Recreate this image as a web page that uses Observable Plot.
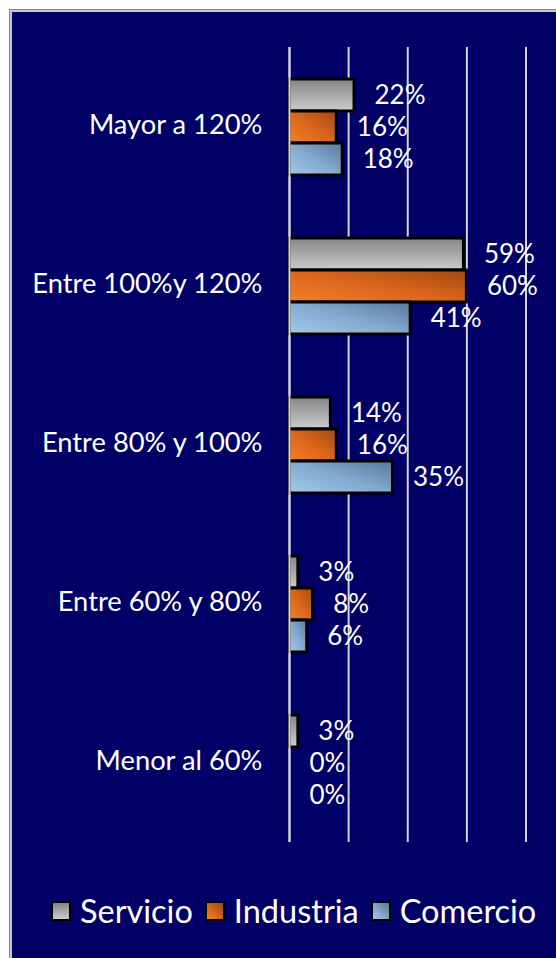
<!DOCTYPE html>
<html>
<head>
<meta charset="utf-8">
<script src="https://cdn.jsdelivr.net/npm/d3@7"></script>
<script src="https://cdn.jsdelivr.net/npm/@observablehq/plot@0.6"></script>
<style>
  html, body { margin: 0; padding: 0; background: #ffffff; }
  #page { position: relative; width: 556px; height: 958px; overflow: hidden; background: #ffffff; font-family: Lato, "Open Sans", sans-serif; }
  #frame { position: absolute; left: 10px; top: 10px; width: 600px; height: 1000px; background: #000066;
           border-left: 2px solid #c8c8c8; border-top: 2px solid #c8c8c8; box-shadow: -1px -1px 0 #888888; }
  #chart { position: absolute; left: 0; top: 0; }
  #legend { position: absolute; left: 51px; top: 891px; display: flex; align-items: center; color: #ffffff; font-size: 32.5px; white-space: nowrap; }
  #legend .sw { width: 16px; height: 16px; border: 2px solid #000000; margin-right: 9px; }
  #legend .item { display: flex; align-items: center; margin-right: 12px; }
</style>
</head>
<body>
<div id="page">
  <div id="frame"></div>
  <div id="chart"></div>
  <div id="legend"></div>
</div>
<script>
const categories = ["Mayor a 120%", "Entre 100%y 120%", "Entre 80% y 100%", "Entre 60% y 80%", "Menor al 60%"];
const series = ["Servicio", "Industria", "Comercio"];
const servicio = [22, 59, 14, 3, 3];
const industria = [16, 60, 16, 8, 0];
const comercio = [18, 41, 35, 6, 0];
const xTicks = [0, 20, 40, 60, 80];

const gradIds = ["gServicio", "gIndustria", "gComercio"];
const gradDefs = `
<linearGradient id="gServicio" x1="0" y1="0" x2="0" y2="1">
  <stop offset="0" stop-color="#858585"/><stop offset="1" stop-color="#cdcdcd"/>
</linearGradient>
<linearGradient id="gIndustria" x1="0" y1="1" x2="1" y2="0">
  <stop offset="0" stop-color="#f58028"/><stop offset="0.5" stop-color="#d9661c"/><stop offset="1" stop-color="#a24810"/>
</linearGradient>
<linearGradient id="gComercio" x1="0" y1="1" x2="1" y2="0">
  <stop offset="0" stop-color="#a2cbef"/><stop offset="0.5" stop-color="#82a9cf"/><stop offset="1" stop-color="#577a9b"/>
</linearGradient>`;

const valuesBySeries = [servicio, industria, comercio];
const data = [];
categories.forEach((c, i) => {
  series.forEach((s, j) => {
    data.push({category: c, series: s, value: valuesBySeries[j][i]});
  });
});

const chart = Plot.plot({
  width: 556,
  height: 858,
  marginLeft: 289,
  marginRight: 30.5,
  marginTop: 46,
  marginBottom: 16,
  style: {background: "transparent", fontFamily: "Lato, 'Open Sans', sans-serif", color: "#ffffff", overflow: "visible"},
  x: {domain: [0, 80], axis: null},
  y: {domain: series, axis: null, paddingInner: 0, paddingOuter: 0.93},
  fy: {domain: categories, padding: 0, label: null},
  color: {domain: series, range: gradIds.map(id => `url(#${id})`)},
  marks: [
    Plot.ruleX(xTicks, {stroke: "#d4d4d4", strokeWidth: 2}),
    Plot.barX(data.filter(d => d.value > 0), {x: "value", y: "series", fy: "category", fill: "series", stroke: "#000000", strokeWidth: 3}),
    Plot.ruleX([0], {stroke: "#d4d4d4", strokeWidth: 2}),
    Plot.text(data, {x: "value", y: "series", fy: "category", text: d => d.value + "%", dx: 20, dy: 0, textAnchor: "start", fill: "#ffffff", fontSize: 26}),
    Plot.axisFy({anchor: "left", tickSize: 0, tickPadding: 27, dy: -2, fontSize: 27.3, fill: "#ffffff", label: null})
  ]
});
d3.select(chart).insert("defs", ":first-child").html(gradDefs);
document.getElementById("chart").appendChild(chart);

const legend = document.getElementById("legend");
const swatchFills = {
  Servicio: "linear-gradient(to bottom, #858585, #cdcdcd)",
  Industria: "linear-gradient(to top right, #f58028, #a24810)",
  Comercio: "linear-gradient(to top right, #a2cbef, #577a9b)"
};
series.forEach((s) => {
  const item = document.createElement("div");
  item.className = "item";
  const sw = document.createElement("div");
  sw.className = "sw";
  sw.style.background = swatchFills[s];
  const label = document.createElement("span");
  label.textContent = s;
  item.appendChild(sw);
  item.appendChild(label);
  legend.appendChild(item);
});
</script>
</body>
</html>
